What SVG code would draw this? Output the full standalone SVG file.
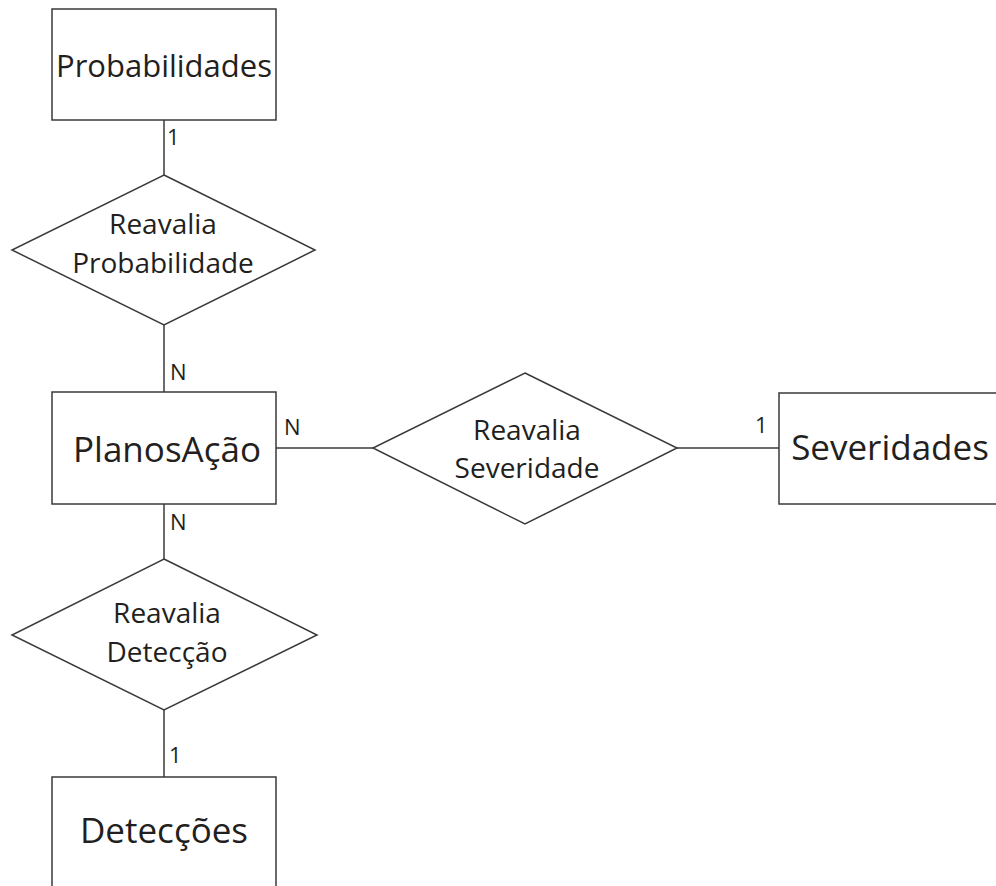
<svg xmlns="http://www.w3.org/2000/svg" width="996" height="886" viewBox="0 0 996 886">
  <style>
    .shape { fill: #ffffff; stroke: #3a3a3a; stroke-width: 1.5; }
    .link { fill: none; stroke: #3a3a3a; stroke-width: 1.5; }
    text { font-family: "Open Sans", "Noto Sans", "DejaVu Sans", sans-serif; fill: #231f20; }
    .ent { font-size: 31px; text-anchor: middle; }
    .big { font-size: 35px; text-anchor: middle; }
    .rel { font-size: 28px; text-anchor: middle; }
    .card { font-size: 22px; }
  </style>
  <rect width="996" height="886" fill="#ffffff"/>

  <!-- connectors -->
  <g id="connectors">
    <line class="link" x1="164" y1="120" x2="164" y2="175"/>
    <line class="link" x1="164" y1="325" x2="164" y2="392"/>
    <line class="link" x1="164" y1="504" x2="164" y2="559"/>
    <line class="link" x1="164" y1="710" x2="164" y2="777"/>
    <line class="link" x1="276" y1="448" x2="373" y2="448"/>
    <line class="link" x1="677" y1="448" x2="779" y2="448"/>
    <text class="card" x="167" y="145">1</text>
    <text class="card" x="170" y="380">N</text>
    <text class="card" x="170" y="530">N</text>
    <text class="card" x="169" y="763">1</text>
    <text class="card" x="284" y="435">N</text>
    <text class="card" x="755" y="433">1</text>
  </g>

  <g id="probabilidades">
    <rect class="shape" x="52" y="9" width="224" height="111"/>
    <text class="ent" x="164" y="77">Probabilidades</text>
  </g>

  <g id="reavalia-probabilidade">
    <polygon class="shape" points="164,175 315,250 164,325 12,250"/>
    <text class="rel" x="163" y="234">Reavalia</text>
    <text class="rel" x="163" y="273">Probabilidade</text>
  </g>

  <g id="planos-acao">
    <rect class="shape" x="52" y="392" width="224" height="112"/>
    <text class="big" x="167" y="462">PlanosAção</text>
  </g>

  <g id="reavalia-severidade">
    <polygon class="shape" points="525,373 677,448 525,524 373,448"/>
    <text class="rel" x="527" y="440">Reavalia</text>
    <text class="rel" x="527" y="478">Severidade</text>
  </g>

  <g id="severidades">
    <rect class="shape" x="779" y="393" width="230" height="111"/>
    <text class="big" x="890" y="460">Severidades</text>
  </g>

  <g id="reavalia-deteccao">
    <polygon class="shape" points="164,559 317,635 164,710 12,635"/>
    <text class="rel" x="167" y="623">Reavalia</text>
    <text class="rel" x="167" y="662">Detecção</text>
  </g>

  <g id="deteccoes">
    <rect class="shape" x="52" y="777" width="224" height="120"/>
    <text class="big" x="164" y="843">Detecções</text>
  </g>
</svg>
